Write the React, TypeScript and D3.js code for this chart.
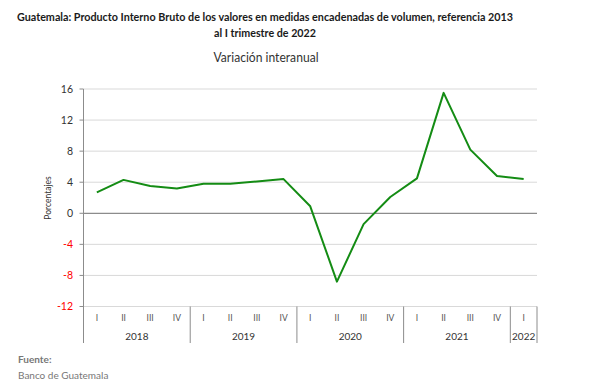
import React from "react";
import * as d3 from "d3";

const years = ["2018", "2019", "2020", "2021", "2022"];
const quarters = [
  ["I", "II", "III", "IV"],
  ["I", "II", "III", "IV"],
  ["I", "II", "III", "IV"],
  ["I", "II", "III", "IV"],
  ["I"],
];
const values = [2.7, 4.3, 3.5, 3.2, 3.8, 3.8, 4.1, 4.4, 0.9, -8.8, -1.4, 2.1, 4.5, 15.5, 8.2, 4.8, 4.4];
const yTicks = [-12, -8, -4, 0, 4, 8, 12, 16];

const W = 607;
const H = 386;
const left = 83.5;
const right = 537;
const top = 89;
const bottom = 306.5;
const FONT = "Lato, 'Open Sans', sans-serif";

export default function App() {
  const cats: { key: string; label: string; year: string }[] = [];
  quarters.forEach((qs, yi) =>
    qs.forEach((q) => cats.push({ key: `${years[yi]}-${q}`, label: q, year: years[yi] }))
  );
  const x = d3.scaleBand<string>().domain(cats.map((c) => c.key)).range([left, right]).padding(0);
  const y = d3.scaleLinear().domain([-12, 16]).range([bottom, top]);
  const line = d3
    .line<number>()
    .x((_, i) => (x(cats[i].key) as number) + x.bandwidth() / 2)
    .y((d) => y(d));

  const groups: { year: string; start: number; end: number }[] = [];
  let idx = 0;
  quarters.forEach((qs, yi) => {
    const s = x(cats[idx].key) as number;
    const e = (x(cats[idx + qs.length - 1].key) as number) + x.bandwidth();
    groups.push({ year: years[yi], start: s, end: e });
    idx += qs.length;
  });

  return (
    <svg width={W} height={H} style={{ position: "absolute", left: 0, top: 0, background: "#fff" }} fontFamily={FONT}>
      <rect width={W} height={H} fill="#fff" />
      <text x={265} y={21} textAnchor="middle" fontWeight="bold" fontSize={12} fill="#1a1a1a" textLength={496} lengthAdjust="spacingAndGlyphs">
        Guatemala: Producto Interno Bruto de los valores en medidas encadenadas  de volumen, referencia 2013
      </text>
      <text x={265} y={37} textAnchor="middle" fontWeight="bold" fontSize={12} fill="#1a1a1a" textLength={102} lengthAdjust="spacingAndGlyphs">
        al I trimestre de 2022
      </text>
      <text x={266} y={62} textAnchor="middle" fontSize={13} fill="#333" textLength={105} lengthAdjust="spacingAndGlyphs">
        Variación interanual
      </text>

      {yTicks.map((t) => (
        <line key={t} x1={left} x2={right} y1={y(t)} y2={y(t)} stroke={t === 0 ? "#8c8c8c" : "#d9d9d9"} strokeWidth={t === 0 ? 1.2 : 1} />
      ))}
      <line x1={left} x2={left} y1={top} y2={343} stroke="#8c8c8c" />
      {yTicks.map((t) => (
        <g key={"t" + t}>
          <line x1={left - 4} x2={left} y1={y(t)} y2={y(t)} stroke="#8c8c8c" />
          <text x={73} y={y(t)} dy="0.35em" textAnchor="end" fontSize={10.5} fill={t < 0 ? "#ff0000" : "#333"}>
            {t}
          </text>
        </g>
      ))}
      <text transform={`translate(51,198) rotate(-90)`} textAnchor="middle" fontSize={8.5} fill="#333">
        Porcentajes
      </text>

      {cats.map((c) => (
        <text key={c.key} x={(x(c.key) as number) + x.bandwidth() / 2} y={321} textAnchor="middle" fontSize={8.5} fill="#555">
          {c.label}
        </text>
      ))}
      {groups.map((g) => (
        <g key={g.year}>
          <line x1={g.end} x2={g.end} y1={bottom} y2={343} stroke="#8c8c8c" />
          <text x={(g.start + g.end) / 2} y={340} textAnchor="middle" fontSize={10} fill="#333">
            {g.year}
          </text>
        </g>
      ))}

      <path d={line(values) || ""} fill="none" stroke="#148c14" strokeWidth={2} strokeLinejoin="round" />

      <text x={18} y={363} fontSize={10} fontWeight="bold" fill="#777">
        Fuente:
      </text>
      <text x={18} y={379} fontSize={10} fill="#777">
        Banco de Guatemala
      </text>
    </svg>
  );
}
